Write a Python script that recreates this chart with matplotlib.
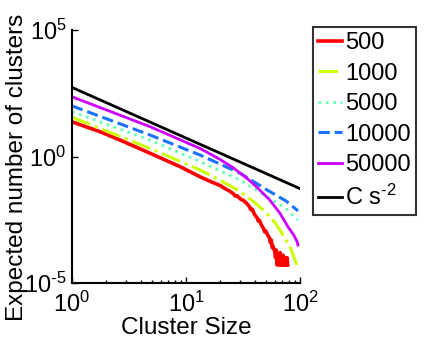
import numpy as np
import matplotlib
matplotlib.use("Agg")
import matplotlib.pyplot as plt

plt.rcParams['font.family'] = ['Liberation Sans', 'DejaVu Sans']
plt.rcParams['mathtext.fontset'] = 'custom'
plt.rcParams['mathtext.rm'] = 'Liberation Sans'
plt.rcParams['mathtext.it'] = 'Liberation Sans:italic'
plt.rcParams['mathtext.default'] = 'regular'

# cluster sizes and log10 of expected number
red_s = [1, 1.76, 2.64, 4.83, 8.86, 13.25, 17, 20, 22, 24, 26, 27, 28, 30, 32, 34, 36, 37, 38,
         40, 42, 43, 44, 46, 48, 49, 50, 52, 54, 55, 56, 57, 58,
         60, 61, 62, 63, 64, 65, 66, 67, 68, 69, 70, 71, 72, 73, 74, 75, 76, 77, 78]
red_logy = [1.37, 0.98, 0.65, 0.13, -0.40, -0.80, -1.02, -1.15, -1.27, -1.36, -1.47, -1.56, -1.55,
            -1.68, -1.74, -1.85, -1.98, -2.1, -2.08, -2.3, -2.42, -2.55, -2.52, -2.72, -2.86,
            -2.98, -2.94, -3.1, -3.22, -3.4, -3.3, -3.6, -3.55,
            -3.75, -4.0, -3.7, -4.29, -3.9, -4.0, -4.29, -3.8, -4.29, -4.0, -4.29, -3.9, -4.29,
            -4.0, -4.29, -4.1, -4.29, -4.0, -4.29]

yel_s = [1, 4.83, 13.25, 21, 29.8, 40, 50, 60, 66.6, 74, 81.6, 88, 94]
yel_logy = [1.55, 0.32, -0.53, -1.0, -1.38, -1.82, -2.2, -2.6, -2.9, -3.25, -3.56, -3.95, -4.29]

grn_s = [1, 4.83, 13.25, 29.8, 51.3, 75, 96]
grn_logy = [1.77, 0.65, -0.2, -0.93, -1.59, -2.05, -2.51]

blu_s = [1, 4.83, 13.25, 29.8, 51.3, 75, 96]
blu_logy = [2.0, 0.85, 0.06, -0.66, -1.32, -1.75, -2.15]

mag_s = [1, 4.83, 13.25, 20, 26, 34, 42, 54.5, 66.6, 78.5, 88, 94, 96]
mag_logy = [2.36, 1.18, 0.32, -0.12, -0.45, -0.85, -1.22, -1.73, -2.24, -2.78, -3.1, -3.35, -3.5]

C = 537
ref_s = np.array([1, 100])

y_ticks = [1e-5, 1e0, 1e5]
y_ticklabels = [r'$10^{\text{-}5}$', r'$10^{0}$', r'$10^{5}$']

series = [
    ("500", red_s, red_logy, (1, 0, 0), '-', 2.6),
    ("1000", yel_s, yel_logy, (0.8, 1, 0), '-.', 2.2),
    ("5000", grn_s, grn_logy, (0.4, 1, 0.7), ':', 2.0),
    ("10000", blu_s, blu_logy, (0.1, 0.45, 1), '--', 2.2),
    ("50000", mag_s, mag_logy, (0.8, 0, 1), '-', 2.0),
]

fig = plt.figure(figsize=(4.36, 3.44), dpi=100)
ax = fig.add_axes([72/436, 61/344, 228/436, 253/344])

for name, s, ly, col, ls, lw in series:
    ax.plot(s, 10**np.array(ly), color=col, linestyle=ls, linewidth=lw, label=name)
ax.plot(ref_s, C * ref_s**-2.0, color='k', linewidth=2.0, label=r'C s$^{\text{-}2}$')

ax.set_xscale('log')
ax.set_yscale('log')
ax.set_xlim(1, 100)
ax.set_ylim(1e-5, 1e5)
ax.set_yticks(y_ticks)
ax.set_yticklabels(y_ticklabels)
ax.yaxis.set_minor_locator(matplotlib.ticker.NullLocator())
ax.spines['top'].set_visible(False)
ax.spines['right'].set_visible(False)
for sp in ['left', 'bottom']:
    ax.spines[sp].set_linewidth(1.5)
ax.tick_params(which='both', direction='in', labelsize=17, width=1)
ax.tick_params(which='major', length=4, pad=4)
ax.tick_params(which='minor', length=2.5)
ax.tick_params(axis='x', which='major', pad=6)

ax.set_xlabel('Cluster Size', fontsize=17.5, labelpad=0)
ax.set_ylabel('Expected number of clusters', fontsize=17.5)
ax.yaxis.set_label_coords(-0.195, 0.458)

leg = fig.legend(loc='upper left', bbox_to_anchor=(313/436, 1 - 27/344), fontsize=17,
                 frameon=True, fancybox=False, borderaxespad=0, handlelength=1.0,
                 handletextpad=0.15, labelspacing=0.36, borderpad=0.22)
leg.get_frame().set_edgecolor('k')
leg.get_frame().set_linewidth(1.5)

fig.savefig('out.png', dpi=100)
